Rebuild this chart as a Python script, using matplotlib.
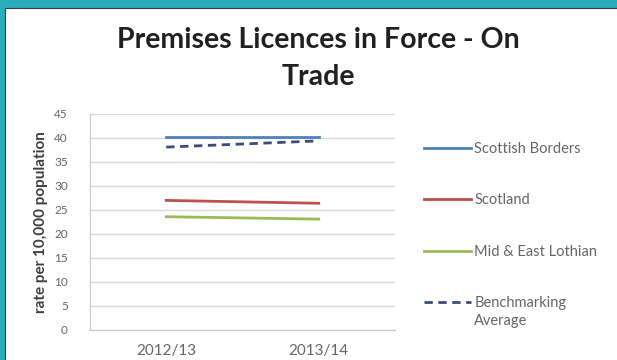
import matplotlib.pyplot as plt
from matplotlib.patches import Rectangle

plt.rcParams['font.family'] = ['Lato', 'DejaVu Sans']

years = ["2012/13", "2013/14"]
scottish_borders = [40.2, 40.2]
scotland = [27.0, 26.4]
mid_east_lothian = [23.6, 23.1]
benchmarking_avg = [38.1, 39.4]

fig = plt.figure(figsize=(6.17, 3.6), dpi=100)
fig.patch.set_facecolor("#2aacba")

# white slide panel inside the teal frame
panel = Rectangle((5 / 617, -0.05), 1.1, 1 - 8 / 360 + 0.05, transform=fig.transFigure,
                  facecolor="white", edgecolor="#3c3c3c", linewidth=0.8, zorder=-1)
fig.patches.append(panel)

ax = fig.add_axes([90 / 617, 30 / 360, 305 / 617, 216 / 360])
ax.set_zorder(2)
ax.set_facecolor("none")

x = range(len(years))
ax.plot(x, scottish_borders, color="#4f81bd", lw=2, label="Scottish Borders")
ax.plot(x, scotland, color="#c0504d", lw=2, label="Scotland")
ax.plot(x, mid_east_lothian, color="#9bbb59", lw=2, label="Mid & East Lothian")
ax.plot(x, benchmarking_avg, color="#3d4a7a", lw=2, ls=(0, (3, 2)),
        label="Benchmarking")

ax.set_xlim(-0.5, 1.5)
ax.set_ylim(0, 45)
ax.set_yticks(range(0, 46, 5))
ax.set_xticks(list(x))
ax.set_xticklabels(years)
ax.grid(axis="y", color="#d9d9d9", lw=1)
ax.set_axisbelow(True)
for side in ["top", "right"]:
    ax.spines[side].set_visible(False)
for side in ["left", "bottom"]:
    ax.spines[side].set_color("#c8c8c8")
ax.tick_params(axis="y", length=0, pad=16, labelsize=8.5, labelcolor="#666666")
ax.tick_params(axis="x", length=0, pad=10, labelsize=11, labelcolor="#666666")
ax.set_ylabel("rate per 10,000 population", fontsize=11, fontweight="bold",
              color="#404040", labelpad=4)

fig.text(0.5154, 1 - 48 / 360, "Premises Licences in Force - On", ha="center",
         va="baseline", fontsize=20.5, fontweight="bold", color="#202020")
fig.text(0.5154, 1 - 85 / 360, "Trade", ha="center", va="baseline",
         fontsize=20.5, fontweight="bold", color="#202020")

leg = ax.legend(loc="upper left", bbox_to_anchor=(1.052, 0.93), frameon=False,
                fontsize=10.5, handlelength=3.2, handletextpad=0.25, labelspacing=2.55,
                labelcolor="#666666")
# second line of the benchmarking entry
ax.annotate("Average", xy=(0, 0), xycoords=leg.get_texts()[-1],
            xytext=(0, -3), textcoords="offset points", va="top",
            fontsize=10.5, color="#666666", zorder=10)

fig.savefig("out.png", dpi=100)
